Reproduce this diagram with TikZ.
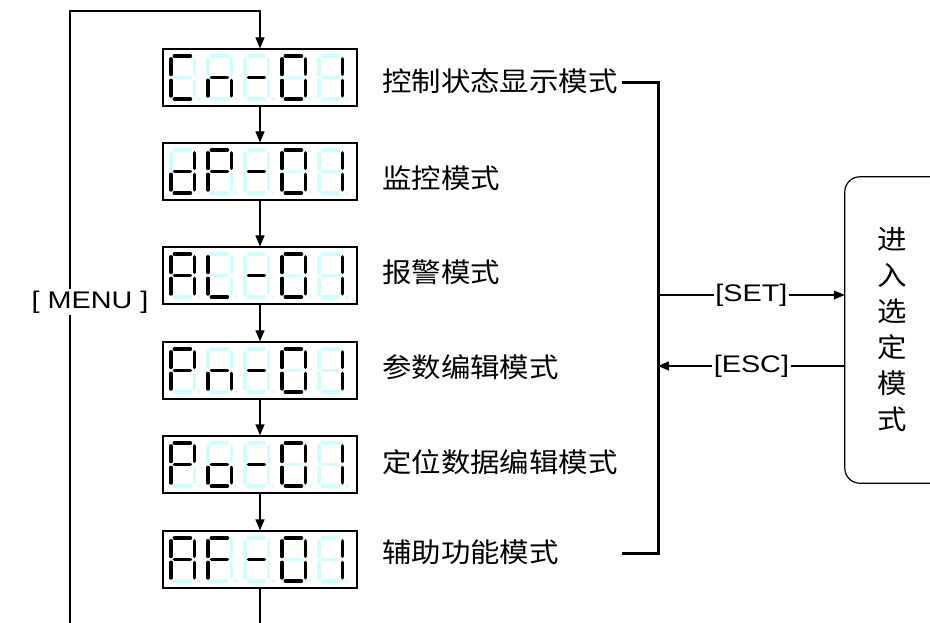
\documentclass[tikz,border=0pt]{standalone}
\usepackage{fontspec}
\setmainfont{Liberation Sans}
\newfontfamily\cjk[FakeStretch=1.09]{Noto Sans CJK SC}
\newfontfamily\keyfont[FakeStretch=1.2]{Liberation Sans}
\usepackage{tikz}
\usetikzlibrary{arrows.meta, positioning, calc}

\definecolor{segdim}{RGB}{204,255,255}

% seven-segment digit (local frame, y downwards)
\tikzset{
  seg a/.style={insert path={(5,1.5) -- (21,1.5)}},
  seg b/.style={insert path={(25,4.5) -- (25,20)}},
  seg c/.style={insert path={(25,26) -- (25,41.5)}},
  seg d/.style={insert path={(5,44.5) -- (21,44.5)}},
  seg e/.style={insert path={(1.5,26) -- (1.5,41.5)}},
  seg f/.style={insert path={(1.5,4.5) -- (1.5,20)}},
  seg g/.style={insert path={(5,23) -- (21,23)}},
  segoff/.style={draw=segdim, line width=3.6pt, line cap=round},
  segon/.style={draw=black, line width=3.6pt, line cap=round},
  pics/digit/.style={code={
    \foreach \s in {a,b,c,d,e,f,g} \draw[segoff, seg \s];
    \fill[segdim] (29.5,44.5) circle (1.9);
    \foreach \s in {#1} \draw[segon, seg \s];
  }}
}

\newcommand{\dispcode}[6]{%
  \pic at ($(#1.north west)+(7,6)$) {digit={#2}};
  \pic at ($(#1.north west)+(44,6)$) {digit={#3}};
  \pic at ($(#1.north west)+(81,6)$) {digit={#4}};
  \pic at ($(#1.north west)+(118,6)$) {digit={#5}};
  \pic at ($(#1.north west)+(155,6)$) {digit={#6}};
}

\begin{document}
\begin{tikzpicture}[
    x=1pt, y=-1pt,
    disp/.style={draw, line width=1.2pt, minimum width=194pt, minimum height=57pt,
      inner sep=0pt},
    modetext/.style={anchor=west, inner sep=0pt, font=\cjk\fontsize{27}{30}\selectfont},
    arrow/.style={line width=1.2pt, -{Triangle[length=11pt,width=9pt]}},
    bus/.style={line width=3pt},
    key/.style={fill=white, inner sep=1.5pt, font=\keyfont\fontsize{24}{26}\selectfont},
    modebox/.style={minimum width=94pt, minimum height=306pt, align=center,
      font=\cjk\fontsize{27}{36}\selectfont},
    modeframe/.style={draw, line width=1.2pt, rounded corners=15pt}
]
\clip (0,0) rectangle (930,623);

% displays
\node[disp] (cn) at (260,77.5) {};
\node[disp] (dp) at (260,171.5) {};
\node[disp] (al) at (260,275.5) {};
\node[disp] (pn) at (260,370.5) {};
\node[disp] (po) at (260,464.5) {};
\node[disp] (af) at (260,559.5) {};

\dispcode{cn}{a,d,e,f}{c,e,g}{g}{a,b,c,d,e,f}{b,c}
\dispcode{dp}{b,c,d,e,g}{a,b,e,f,g}{g}{a,b,c,d,e,f}{b,c}
\dispcode{al}{a,b,c,e,f,g}{d,e,f}{g}{a,b,c,d,e,f}{b,c}
\dispcode{pn}{a,b,e,f,g}{c,e,g}{g}{a,b,c,d,e,f}{b,c}
\dispcode{po}{a,b,e,f,g}{c,d,e,g}{g}{a,b,c,d,e,f}{b,c}
\dispcode{af}{a,b,c,e,f,g}{a,e,f,g}{g}{a,b,c,d,e,f}{b,c}

% mode names
\node[modetext] (tcn) at (382,81) {控制状态显示模式};
\node[modetext] (tdp) at (382,178) {监控模式};
\node[modetext] (tal) at (382,272) {报警模式};
\node[modetext] (tpn) at (382,367) {参数编辑模式};
\node[modetext] (tpo) at (382,462) {定位数据编辑模式};
\node[modetext] (taf) at (382,552) {辅助功能模式};

\foreach \a/\b in {cn/dp, dp/al, al/pn, pn/po, po/af}
  \draw[arrow] (\a) -- (\b);

% [ MENU ] loop
\coordinate (loopL) at (70,623);
\coordinate (loopTL) at (70,11);
\coordinate (loopTR) at (260,11);
\coordinate (loopEnd) at (260,623);
\draw[arrow] (loopL) -- (loopTL) -- (loopTR) -- (cn);
\draw[line width=1.2pt] (af) -- (loopEnd);
\node[key] (menu) at (90,302) {[ MENU ]};

% bracket
\coordinate (busA) at (622,83);
\coordinate (busB) at (658,83);
\coordinate (busC) at (658,553);
\coordinate (busD) at (622,553);
\draw[bus] (busA) -- (busB) -- (busC) -- (busD);

% selected mode (box runs off the right edge)
\node[modebox] (mode) at (892,330) {进\\入\\选\\定\\模\\式};
\draw[modeframe] (mode.north west) rectangle ($(mode.south east)+(40,0)$);
\coordinate (setS) at (658,295);
\coordinate (escE) at (658,366);
\draw[arrow] (setS) -- (setS -| mode.west) node[key, midway] {[SET]};
\draw[arrow] (escE -| mode.west) -- (escE) node[key, midway] {[ESC]};
\end{tikzpicture}
\end{document}
